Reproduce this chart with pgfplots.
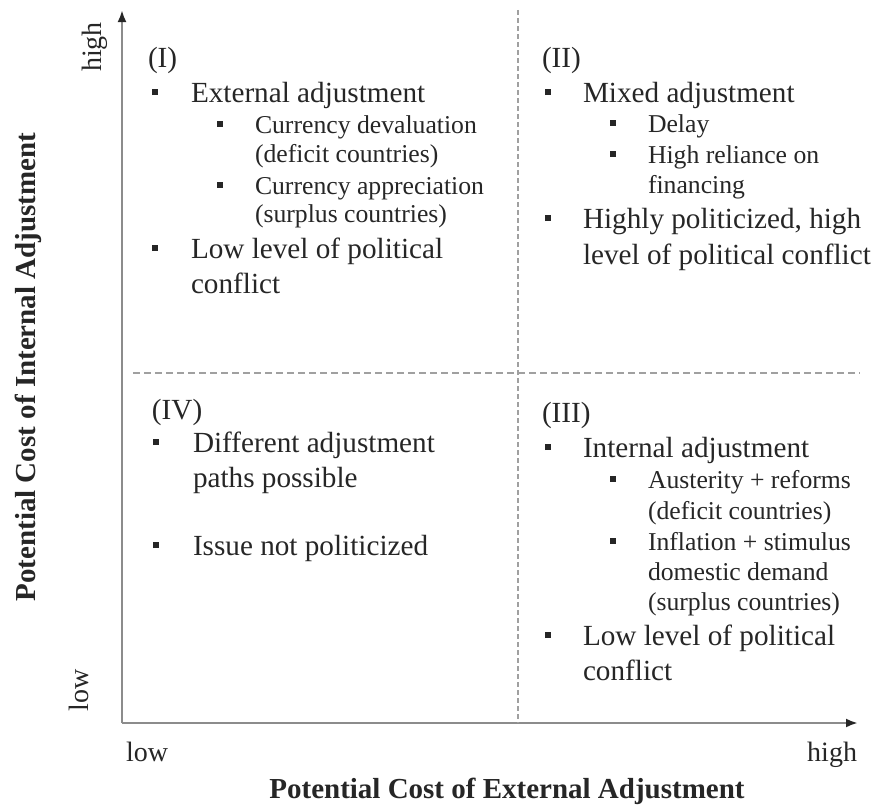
\documentclass[border=0pt]{standalone}
\usepackage{fontspec}
\setmainfont{Liberation Serif}
\usepackage{pgfplots}
\pgfplotsset{compat=1.18}
\usetikzlibrary{arrows.meta}
\definecolor{axgray}{HTML}{8C8C8C}
\definecolor{dashgray}{HTML}{A0A0A0}
\definecolor{txt}{HTML}{262626}
\newcommand{\mainfs}{\fontsize{14.6}{17}\selectfont}
\newcommand{\subfs}{\fontsize{12.85}{15}\selectfont}
\newcommand{\tickfs}{\fontsize{14}{16}\selectfont}
\newcommand{\titlefs}{\fontsize{14.5}{17}\selectfont\bfseries}
\newcommand{\mbul}{\rule[3.4pt]{3.2pt}{3.2pt}}
\newcommand{\sbul}{\rule[3.1pt]{2.8pt}{2.8pt}}
\tikzset{tx/.style={inner sep=0pt, outer sep=0pt, text=txt}}
% main line: bullet x, text x, baseline, text
\newcommand{\qml}[4]{\node[tx,anchor=base west] at (axis cs:#1,#3) {\mainfs\mbul};\node[tx,anchor=base west] at (axis cs:#2,#3) {\mainfs #4};}
\newcommand{\qmt}[3]{\node[tx,anchor=base west] at (axis cs:#1,#2) {\mainfs #3};}
\newcommand{\qsl}[4]{\node[tx,anchor=base west] at (axis cs:#1,#3) {\subfs\sbul};\node[tx,anchor=base west] at (axis cs:#2,#3) {\subfs #4};}
\newcommand{\qst}[3]{\node[tx,anchor=base west] at (axis cs:#1,#2) {\subfs #3};}
\begin{document}
\begin{tikzpicture}
\begin{axis}[
  x=0.5pt, y=0.5pt,
  xmin=122, xmax=858, ymin=82, ymax=795,
  axis lines=left,
  axis line style={axgray, line width=1.3pt, -{Latex[length=6pt,width=4.5pt,color=black!85]}},
  ticks=none,
  clip=false,
]
\coordinate (bbA) at (axis cs:0,0);
\coordinate (bbB) at (axis cs:873,805);
\addplot[dashgray, line width=1pt, dash pattern=on 2.5pt off 1.5pt] coordinates {(518,795) (518,82)};
\addplot[dashgray, line width=1pt, dash pattern=on 3.5pt off 2pt] coordinates {(133,432) (860,432)};
% Quadrant I
\qmt{148}{737}{(I)}
\qml{152}{191}{703}{External adjustment}
\qsl{217}{255}{672}{Currency devaluation}
\qst{255}{643}{(deficit countries)}
\qsl{217}{255}{611}{Currency appreciation}
\qst{255}{583}{(surplus countries)}
\qml{152}{191}{547}{Low level of political}
\qmt{191}{512}{conflict}
% Quadrant II
\qmt{542}{737}{(II)}
\qml{545}{583}{703}{Mixed adjustment}
\qsl{610}{648}{673}{Delay}
\qsl{610}{648}{642}{High reliance on}
\qst{648}{612}{financing}
\qml{545}{583}{577}{Highly politicized, high}
\qmt{583}{541}{level of political conflict}
% Quadrant IV
\qmt{152}{386}{(IV)}
\qml{153}{193}{353}{Different adjustment}
\qmt{193}{318}{paths possible}
\qml{153}{193}{250}{Issue not politicized}
% Quadrant III
\qmt{542}{383}{(III)}
\qml{545}{583}{348}{Internal adjustment}
\qsl{610}{648}{317}{Austerity + reforms}
\qst{648}{286}{(deficit countries)}
\qsl{610}{648}{255}{Inflation + stimulus}
\qst{648}{225}{domestic demand}
\qst{648}{195}{(surplus countries)}
\qml{545}{583}{160}{Low level of political}
\qmt{583}{125}{conflict}
% tick-like labels
\node[tx,anchor=base west] at (axis cs:126,44) {\tickfs low};
\node[tx,anchor=base east] at (axis cs:857,44) {\tickfs high};
\node[tx,rotate=90, anchor=base] at (axis cs:89,115) {\tickfs low};
\node[tx,rotate=90, anchor=base] at (axis cs:102,758) {\tickfs high};
% titles
\node[tx,anchor=base] at (axis cs:507,7) {\titlefs Potential Cost of External Adjustment};
\node[tx,rotate=90, anchor=base] at (axis cs:36,438) {\titlefs Potential Cost of Internal Adjustment};
\end{axis}
\pgfresetboundingbox
\path (bbA) rectangle (bbB);
\end{tikzpicture}
\end{document}
